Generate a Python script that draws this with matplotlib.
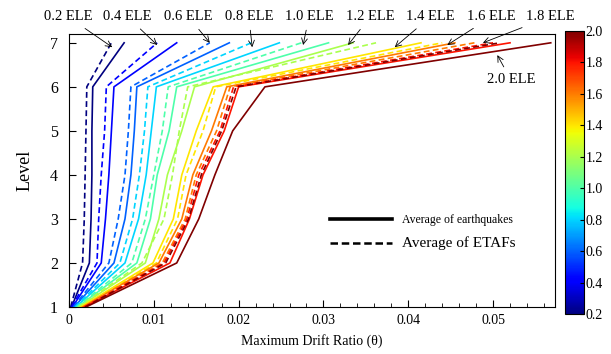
import numpy as np
import matplotlib
matplotlib.use("Agg")
import matplotlib.pyplot as plt
from matplotlib.lines import Line2D

plt.rcParams['font.family'] = ['Liberation Serif', 'DejaVu Serif']
plt.rcParams['mathtext.fontset'] = 'stix'

levels = [1, 2, 3, 4, 5, 6, 7]
ele = [0.2, 0.4, 0.6, 0.8, 1.0, 1.2, 1.4, 1.6, 1.8, 2.0]

# average of earthquakes (solid)
eq_drift = [
    [0.0003, 0.0024, 0.0026, 0.0027, 0.0027, 0.0028, 0.0065],
    [0.0004, 0.0038, 0.0043, 0.0047, 0.0050, 0.0053, 0.0127],
    [0.0006, 0.0053, 0.0066, 0.0073, 0.0077, 0.0080, 0.0189],
    [0.0008, 0.0066, 0.0082, 0.0091, 0.0097, 0.0103, 0.0248],
    [0.0010, 0.0080, 0.0096, 0.0104, 0.0118, 0.0127, 0.0306],
    [0.0012, 0.0090, 0.0106, 0.0116, 0.0133, 0.0148, 0.0335],
    [0.0014, 0.0099, 0.0123, 0.0133, 0.0150, 0.0170, 0.0415],
    [0.0016, 0.0106, 0.0133, 0.0146, 0.0168, 0.0186, 0.0455],
    [0.0018, 0.0119, 0.0142, 0.0158, 0.0183, 0.0200, 0.0520],
    [0.0020, 0.0127, 0.0153, 0.0172, 0.0193, 0.0231, 0.0568],
]
# average of ETAFs (dashed)
etaf_drift = [
    [0.0002, 0.0016, 0.0018, 0.0019, 0.0020, 0.0021, 0.0050],
    [0.0003, 0.0033, 0.0035, 0.0038, 0.0042, 0.0044, 0.0104],
    [0.0005, 0.0047, 0.0058, 0.0066, 0.0070, 0.0073, 0.0166],
    [0.0007, 0.0060, 0.0075, 0.0083, 0.0089, 0.0093, 0.0215],
    [0.0009, 0.0074, 0.0090, 0.0100, 0.0110, 0.0117, 0.0274],
    [0.0011, 0.0086, 0.0112, 0.0122, 0.0130, 0.0140, 0.0362],
    [0.0014, 0.0103, 0.0128, 0.0138, 0.0158, 0.0173, 0.0440],
    [0.0017, 0.0110, 0.0137, 0.0150, 0.0174, 0.0190, 0.0478],
    [0.0018, 0.0112, 0.0139, 0.0153, 0.0178, 0.0194, 0.0500],
    [0.0019, 0.0114, 0.0141, 0.0156, 0.0180, 0.0197, 0.0508],
]

# label text position and arrow tip (data coords)
label_text = ["0.2 ELE", "0.4 ELE", "0.6 ELE", "0.8 ELE", "1.0 ELE",
              "1.2 ELE", "1.4 ELE", "1.6 ELE", "1.8 ELE", "2.0 ELE"]
label_xy = [(-0.0001, 7.59), (0.0069, 7.59), (0.0141, 7.59), (0.0212, 7.59),
            (0.0283, 7.59), (0.0355, 7.59), (0.0426, 7.59), (0.0498, 7.59),
            (0.0567, 7.59), (0.0521, 6.16)]
arrow_tip = [(0.0051, 6.90), (0.0104, 6.95), (0.0166, 7.0), (0.0216, 6.9),
             (0.0276, 6.95), (0.0329, 6.95), (0.0384, 6.9), (0.0446, 6.95),
             (0.0488, 7.0), (0.0505, 6.72)]

W, H = 611, 354
fig = plt.figure(figsize=(W / 100, H / 100), dpi=100)
ax = fig.add_axes([69 / W, 1 - 307 / H, (555 - 69) / W, (307 - 34) / H])
cax = fig.add_axes([565 / W, 1 - 314 / H, 19 / W, (314 - 31) / H])

cmap = plt.get_cmap('jet')
norm = matplotlib.colors.Normalize(vmin=0.2, vmax=2.0)

for i, e in enumerate(ele):
    c = cmap(norm(e))
    ax.plot(eq_drift[i], levels, '-', color=c, lw=1.2)
    ax.plot(etaf_drift[i], levels, '--', color=c, lw=1.2, dashes=(3.5, 2))

for txt, pos, tip in zip(label_text, label_xy, arrow_tip):
    ax.annotate(txt, xy=tip, xytext=pos, ha='center', va='center', fontsize=10.5,
                annotation_clip=False,
                arrowprops=dict(arrowstyle='->', lw=0.6, color='black',
                                shrinkA=3, shrinkB=0))

ax.set_xlim(0, 0.0573)
ax.set_ylim(1, 7.2)
ax.set_xticks([0, 0.01, 0.02, 0.03, 0.04, 0.05])
ax.set_xticklabels(['0', '0.01', '0.02', '0.03', '0.04', '0.05'])
ax.set_xticks(np.arange(0, 0.0573, 0.002), minor=True)
ax.set_yticks(levels)
ax.tick_params(axis='x', which='major', direction='in', length=5, labelsize=10, pad=5)
ax.tick_params(axis='x', which='minor', direction='in', length=3)
ax.tick_params(axis='y', direction='in', length=5, labelsize=11.5, pad=8)
ax.set_xlabel('Maximum Drift Ratio (θ)', fontsize=10, labelpad=5)
ax.set_ylabel('Level', fontsize=13, labelpad=12)

handles = [Line2D([], [], color='black', lw=2.6),
           Line2D([], [], color='black', lw=1.8, ls='--', dashes=(3, 1.5))]
leg = ax.legend(handles, ['Average of earthquakes', 'Average of ETAFs'],
                loc='center left', bbox_to_anchor=(0.515, 0.275), frameon=False,
                fontsize=8.5, handlelength=5.3, handletextpad=0.8, labelspacing=0.9)
leg.get_texts()[1].set_fontsize(11)

sm = matplotlib.cm.ScalarMappable(norm=norm, cmap=cmap)
cb = fig.colorbar(sm, cax=cax, ticks=np.arange(0.2, 2.01, 0.2))
cb.ax.set_yticklabels(['%.1f' % t for t in np.arange(0.2, 2.01, 0.2)])
cb.ax.tick_params(direction='in', length=3, labelsize=10, pad=1)
cb.outline.set_linewidth(0.8)

fig.savefig('out.png', dpi=100)
